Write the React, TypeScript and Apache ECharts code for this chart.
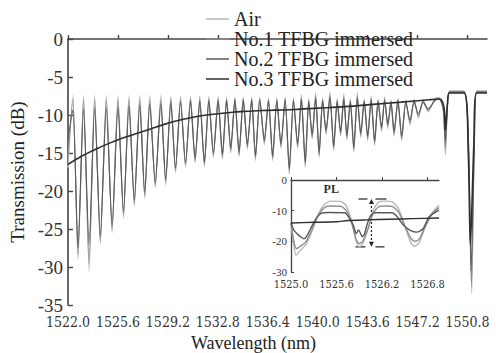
import React, { useEffect, useRef } from "react";
import * as echarts from "echarts";

const seriesNames = ["Air", "No.1 TFBG immersed", "No.2 TFBG immersed", "No.3 TFBG immersed"];
const seriesColors = ["#b8b8b8", "#8e8e8e", "#5a5a5a", "#2e2e2e"];

const xTicks = [1522.0, 1525.6, 1529.2, 1532.8, 1536.4, 1540.0, 1543.6, 1547.2, 1550.8];
const insetXTicks = [1525.0, 1525.6, 1526.2, 1526.8];

// comb resonance positions (nm)
const peakWl = [1522.35, 1523.12, 1523.92, 1524.76, 1525.6, 1526.39, 1527.17, 1527.89, 1528.69, 1529.41,
  1530.11, 1530.83, 1531.5, 1532.15, 1532.82, 1533.43, 1534.03, 1534.63, 1535.24, 1535.82,
  1536.45, 1537.05, 1537.65, 1538.25, 1538.82, 1539.35, 1539.85, 1540.35, 1540.88, 1541.4,
  1541.88, 1542.35, 1542.85, 1543.35, 1543.85, 1544.35, 1544.82, 1545.28, 1545.78, 1546.35,
  1546.95, 1547.6, 1548.45];
const dipWl = [1522.72, 1523.52, 1524.33, 1525.18, 1526.0, 1526.78, 1527.53, 1528.29, 1529.04, 1529.75,
  1530.47, 1531.16, 1531.83, 1532.48, 1533.13, 1533.73, 1534.33, 1534.93, 1535.51, 1536.15,
  1536.75, 1537.35, 1537.95, 1538.55, 1539.1, 1539.6, 1540.1, 1540.6, 1541.15, 1541.65,
  1542.1, 1542.6, 1543.1, 1543.6, 1544.1, 1544.6, 1545.05, 1545.5, 1546.05, 1546.65,
  1547.25, 1547.95];

const airPeak = [-7.4, -7.4, -7.4, -7.4, -7.4, -7.4, -7.4, -7.4, -7.4, -7.5, -7.5, -7.5, -7.5, -7.5, -7.5, -7.6, -7.6, -7.6, -7.6, -7.6,
  -7.7, -7.7, -7.6, -7.7, -7.3, -7.8, -7.0, -7.7, -6.9, -7.8, -7.2, -7.8, -7.0, -7.9, -7.5, -7.9, -7.6, -8.0, -7.8, -8.0, -7.9, -8.0, -7.8];
const airDip = [-29.0, -30.6, -27.0, -25.5, -23.6, -22.0, -21.0, -19.6, -19.2, -17.6, -16.9, -16.3, -16.8, -15.6, -15.8, -15.0, -15.5, -14.5, -16.0,
  -13.9, -16.0, -14.4, -17.8, -14.4, -16.9, -13.2, -15.6, -12.6, -14.7, -12.8, -13.3, -14.9, -13.0, -13.4, -14.0, -12.2, -11.8, -12.8, -13.4, -11.3, -10.4, -9.6];

const no1Peak = [-7.9, -7.9, -7.9, -7.9, -7.9, -7.9, -7.9, -7.9, -7.9, -7.9, -7.9, -7.9, -7.9, -7.9, -7.9, -7.9, -7.9, -7.9, -7.9, -7.9,
  -8.0, -8.0, -7.9, -8.0, -7.7, -8.1, -7.5, -8.0, -7.4, -8.1, -7.6, -8.1, -7.5, -8.1, -7.8, -8.1, -7.9, -8.2, -8.0, -8.2, -8.1, -8.2, -8.0];
const no1Dip = [-28.4, -29.6, -26.6, -25.1, -23.2, -21.7, -20.7, -19.3, -18.9, -17.3, -16.6, -16.0, -16.5, -15.3, -15.5, -14.7, -15.2, -14.2, -15.7,
  -13.6, -15.7, -14.1, -17.4, -14.1, -16.5, -12.9, -15.3, -12.3, -14.4, -12.5, -13.0, -14.6, -12.7, -13.1, -13.7, -11.9, -11.5, -12.5, -13.1, -11.0, -10.2, -9.4];

const no2Peak = [-9.3, -9.2, -9.1, -9.0, -8.9, -8.8, -8.7, -8.6, -8.5, -8.4, -8.3, -8.2, -8.2, -8.1, -8.1, -8.1, -8.0, -8.0, -8.0, -8.0,
  -8.1, -8.1, -8.0, -8.1, -7.9, -8.2, -7.8, -8.1, -7.7, -8.2, -7.9, -8.2, -7.8, -8.2, -8.0, -8.2, -8.1, -8.3, -8.1, -8.3, -8.2, -8.3, -8.1];
const no2Dip = [-27.5, -27.0, -26.0, -24.6, -22.7, -21.2, -20.2, -18.9, -18.5, -17.0, -16.3, -15.7, -16.2, -15.0, -15.2, -14.4, -14.9, -13.9, -15.4,
  -13.3, -15.4, -13.8, -17.0, -13.8, -16.2, -12.6, -15.0, -12.0, -14.1, -12.2, -12.7, -14.3, -12.4, -12.8, -13.4, -11.6, -11.2, -12.2, -12.8, -10.7, -9.9, -9.2];

const airStart = [1522.0, -17.0];
const no1Start = [1522.0, -15.5];
const no2Start = [1522.0, -13.0];

const airTail = [[1548.75, -7.7], [1549.05, -9.5], [1549.2, -15.3], [1549.35, -9.0], [1549.5, -6.8], [1550.55, -6.8], [1550.85, -12.0], [1551.1, -33.5], [1551.3, -12.0], [1551.45, -6.8], [1552.2, -6.8]];
const no1Tail = [[1548.75, -7.8], [1549.05, -9.3], [1549.2, -14.5], [1549.35, -8.8], [1549.5, -6.9], [1550.55, -6.9], [1550.85, -12.5], [1551.08, -32.5], [1551.3, -12.5], [1551.45, -6.9], [1552.2, -6.9]];
const no2Tail = [[1548.75, -7.9], [1549.05, -9.0], [1549.2, -13.5], [1549.35, -8.6], [1549.5, -7.0], [1550.55, -7.0], [1550.85, -13.0], [1551.05, -30.5], [1551.3, -13.0], [1551.45, -7.0], [1552.2, -7.0]];

const no3Wl = [1522.0, 1523.0, 1524.0, 1525.0, 1526.0, 1527.0, 1528.0, 1529.0, 1530.0, 1531.0, 1532.0, 1533.0, 1534.0, 1535.0, 1536.0,
  1538.0, 1540.0, 1542.0, 1544.0, 1546.0, 1548.0, 1548.8, 1549.1, 1549.2, 1549.35, 1549.5, 1550.55, 1550.85, 1551.0, 1551.25, 1551.45, 1552.2];
const no3Val = [-16.5, -15.4, -14.5, -13.7, -13.0, -12.4, -11.8, -11.2, -10.7, -10.3, -10.0, -9.8, -9.6, -9.5, -9.4,
  -9.3, -9.1, -8.9, -8.6, -8.3, -8.0, -7.9, -9.0, -12.0, -8.5, -7.1, -7.1, -15.0, -27.0, -14.0, -7.1, -7.1];

// inset (zoom of 1525.0 - 1527.0 nm)
const insetAir = [[1525.0, -14.0], [1525.03, -20.0], [1525.065, -24.6], [1525.12, -23.0], [1525.2, -21.0], [1525.28, -16.5], [1525.36, -11.0], [1525.44, -8.0], [1525.52, -6.9], [1525.66, -7.0], [1525.73, -8.5], [1525.8, -13.5], [1525.86, -20.0], [1525.9, -21.9], [1525.95, -20.5], [1526.02, -15.5], [1526.08, -10.0], [1526.15, -7.3], [1526.24, -6.9], [1526.34, -7.2], [1526.42, -9.5], [1526.5, -15.0], [1526.58, -20.5], [1526.62, -21.6], [1526.68, -20.8], [1526.76, -16.0], [1526.85, -11.0], [1526.95, -8.2]];
const insetNo1 = [[1525.0, -14.0], [1525.03, -19.0], [1525.07, -22.4], [1525.13, -21.5], [1525.2, -20.0], [1525.28, -16.0], [1525.36, -11.5], [1525.44, -9.0], [1525.52, -8.5], [1525.66, -8.6], [1525.73, -10.0], [1525.8, -14.0], [1525.86, -19.5], [1525.9, -20.8], [1525.95, -19.8], [1526.02, -15.5], [1526.08, -11.0], [1526.15, -8.8], [1526.24, -8.5], [1526.34, -8.7], [1526.42, -10.5], [1526.5, -15.0], [1526.58, -19.0], [1526.63, -20.0], [1526.69, -19.3], [1526.77, -15.0], [1526.86, -11.0], [1526.95, -9.0]];
const insetNo2 = [[1525.0, -14.0], [1525.04, -16.4], [1525.08, -17.5], [1525.13, -18.6], [1525.17, -19.2], [1525.21, -18.2], [1525.27, -15.3], [1525.33, -12.6], [1525.4, -10.8], [1525.5, -10.6], [1525.71, -10.7], [1525.77, -12.5], [1525.82, -14.7], [1525.86, -17.5], [1525.89, -16.3], [1525.94, -18.5], [1525.97, -17.5], [1526.0, -14.7], [1526.04, -12.0], [1526.1, -10.7], [1526.33, -10.7], [1526.4, -12.0], [1526.48, -14.7], [1526.57, -16.4], [1526.66, -17.0], [1526.74, -15.9], [1526.82, -12.0], [1526.95, -9.8]];
const insetNo3 = [[1525.0, -14.0], [1525.3, -13.8], [1525.6, -13.6], [1525.75, -13.2], [1526.0, -13.0], [1526.3, -12.8], [1526.6, -12.6], [1526.95, -12.4]];

// annotation in inset (data coords)
const plLabel = { text: "PL", x: 1525.53, y: -3.0 };
const plArrow = { x: 1526.06, top: -6.2, bottom: -21.8 };

const serif = "Liberation Serif";
const narrow = "DejaVu Serif Condensed";

function comb(start: number[], peaks: number[], dips: number[], tail: number[][]) {
  const pts: number[][] = [start];
  for (let i = 0; i < peakWl.length; i++) {
    pts.push([peakWl[i], peaks[i]]);
    if (i < dipWl.length) pts.push([dipWl[i], dips[i]]);
  }
  return pts.concat(tail);
}

export default function App() {
  const ref = useRef<HTMLDivElement>(null);
  useEffect(() => {
    if (!ref.current) return;
    const chart = echarts.init(ref.current, undefined, { renderer: "svg" });
    const mainData = [
      comb(airStart, airPeak, airDip, airTail),
      comb(no1Start, no1Peak, no1Dip, no1Tail),
      comb(no2Start, no2Peak, no2Dip, no2Tail),
      no3Wl.map((w, i) => [w, no3Val[i]]),
    ];
    const insetData = [insetAir, insetNo1, insetNo2, insetNo3];
    const axisLine = { show: true, lineStyle: { color: "#444", width: 1.6 } };
    const option: any = {
      animation: false,
      backgroundColor: "#fff",
      textStyle: { fontFamily: serif },
      legend: {
        orient: "vertical",
        left: 201,
        top: 4,
        icon: "rect",
        itemWidth: 23,
        itemHeight: 1.5,
        itemGap: 0,
        data: seriesNames,
        textStyle: { fontFamily: serif, fontSize: 20, color: "#222", lineHeight: 20 },
      },
      grid: [
        { left: 68, top: 39, width: 419, height: 266, outerBoundsMode: "none" },
        { left: 291, top: 180, width: 148, height: 92, outerBoundsMode: "none" },
      ],
      xAxis: [
        {
          type: "value", gridIndex: 0, min: 1522.0, max: 1552.2,
          axisLine, splitLine: { show: false },
          axisTick: { inside: true, length: 4, customValues: xTicks, lineStyle: { color: "#444", width: 1.4 } },
          axisLabel: { customValues: xTicks, formatter: (v: number) => v.toFixed(1), fontFamily: narrow, fontSize: 14, color: "#333", margin: 9, lineHeight: 15 },
          name: "Wavelength (nm)", nameLocation: "middle", nameGap: 27,
          nameTextStyle: { fontFamily: serif, fontSize: 18, color: "#222", padding: [0, 48, 0, 0] },
        },
        {
          type: "value", gridIndex: 1, min: 1525.0, max: 1526.95,
          axisLine: { show: true, lineStyle: { color: "#444", width: 1.3 } }, splitLine: { show: false },
          axisTick: { inside: true, length: 3, customValues: insetXTicks, lineStyle: { color: "#444" } },
          axisLabel: { customValues: insetXTicks, formatter: (v: number) => v.toFixed(1), fontFamily: narrow, fontSize: 11, color: "#333", margin: 6, lineHeight: 12 },
        },
      ],
      yAxis: [
        {
          type: "value", gridIndex: 0, min: -35, max: 0, interval: 5,
          axisLine, splitLine: { show: false },
          axisTick: { inside: true, length: 5, lineStyle: { color: "#444", width: 1.4 } },
          axisLabel: { fontFamily: serif, fontSize: 19, color: "#333", margin: 5, lineHeight: 15 },
          name: "Transmission (dB)", nameLocation: "middle", nameGap: 30,
          nameTextStyle: { fontFamily: serif, fontSize: 19, color: "#222" },
        },
        {
          type: "value", gridIndex: 1, min: -30, max: 0, interval: 10,
          axisLine: { show: true, lineStyle: { color: "#444", width: 1.3 } }, splitLine: { show: false },
          axisTick: { inside: true, length: 3, lineStyle: { color: "#444" } },
          axisLabel: { fontFamily: serif, fontSize: 11, color: "#333", margin: 4, lineHeight: 11 },
        },
      ],
      series: [
        ...mainData.map((d, i) => ({
          name: seriesNames[i], type: "line", xAxisIndex: 0, yAxisIndex: 0, data: d,
          symbol: "none", smooth: i === 3 ? 0.3 : 0.22, color: seriesColors[i],
          lineStyle: { width: i === 3 ? 1.6 : 1.1, color: seriesColors[i] }, z: 2 + i,
        })),
        ...insetData.map((d, i) => ({
          name: seriesNames[i], type: "line", xAxisIndex: 1, yAxisIndex: 1, data: d,
          symbol: "none", smooth: 0.2, color: seriesColors[i], lineStyle: { width: 1.4, color: seriesColors[i] }, z: 2 + i,
        })),
      ],
    };
    chart.setOption(option);

    const p = (x: number, y: number) => chart.convertToPixel({ gridIndex: 1 }, [x, y]) as number[];
    const tl = p(plLabel.x, plLabel.y);
    const at = p(plArrow.x, plArrow.top);
    const ab = p(plArrow.x, plArrow.bottom);
    const st = { stroke: "#222", lineWidth: 1.2 };
    chart.setOption({
      graphic: [
        { type: "text", x: tl[0], y: tl[1], style: { text: plLabel.text, fontFamily: serif, fontSize: 12, fontWeight: "bold", fill: "#333", align: "center", verticalAlign: "middle" } },
        { type: "line", shape: { x1: at[0], y1: at[1] + 3, x2: ab[0], y2: ab[1] - 3 }, style: { ...st, lineDash: [2, 2] } },
        { type: "polygon", shape: { points: [[at[0], at[1]], [at[0] - 2.5, at[1] + 5], [at[0] + 2.5, at[1] + 5]] }, style: { fill: "#222" } },
        { type: "polygon", shape: { points: [[ab[0], ab[1]], [ab[0] - 2.5, ab[1] - 5], [ab[0] + 2.5, ab[1] - 5]] }, style: { fill: "#222" } },
        { type: "line", shape: { x1: at[0] - 13, y1: at[1], x2: at[0] - 4, y2: at[1] }, style: st },
        { type: "line", shape: { x1: at[0] + 4, y1: at[1], x2: at[0] + 15, y2: at[1] }, style: st },
        { type: "line", shape: { x1: ab[0] - 16, y1: ab[1], x2: ab[0] - 6, y2: ab[1] }, style: st },
        { type: "line", shape: { x1: ab[0] + 4, y1: ab[1], x2: ab[0] + 13, y2: ab[1] }, style: st },
      ],
    });
    return () => chart.dispose();
  }, []);
  return <div ref={ref} style={{ position: "fixed", left: 0, top: 0, width: 496, height: 353 }} />;
}
